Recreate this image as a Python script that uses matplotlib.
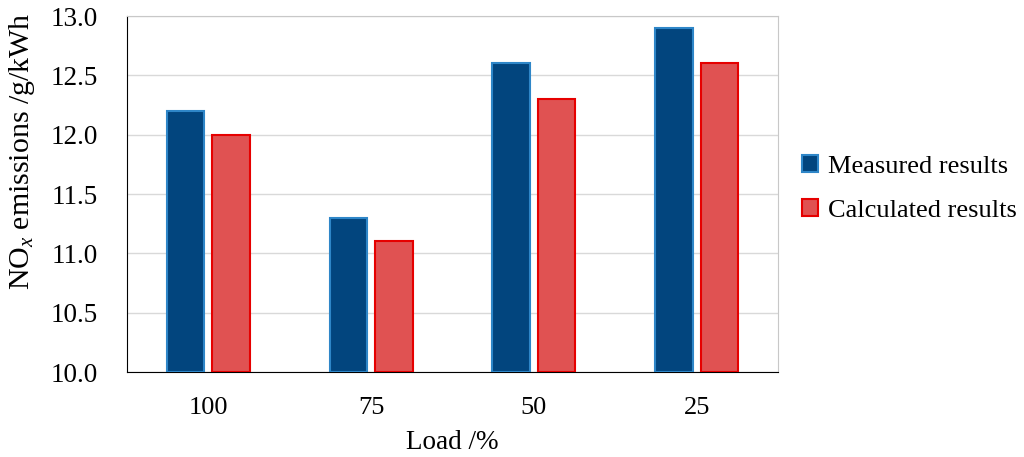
import matplotlib
matplotlib.use("Agg")
import matplotlib.pyplot as plt
import numpy as np

categories = ["100", "75", "50", "25"]
measured = [12.2, 11.3, 12.6, 12.9]
calculated = [12.0, 11.1, 12.3, 12.6]

plt.rcParams['font.family'] = ['Liberation Serif', 'DejaVu Serif']
plt.rcParams['mathtext.fontset'] = 'custom'
plt.rcParams['mathtext.rm'] = 'Liberation Serif'
plt.rcParams['mathtext.it'] = 'Liberation Serif:italic'

fig = plt.figure(figsize=(10.24, 4.57), dpi=100)
ax = fig.add_axes([127/1024, 1-372/457, (778-127)/1024, (372-16)/457])

x = np.arange(len(categories))
w = 0.23
ax.bar(x - 0.14, [m - 10 for m in measured], w, bottom=10, color='#02457e',
       edgecolor='#2e86c8', linewidth=1.5, label='Measured results', zorder=3)
ax.bar(x + 0.14, [c - 10 for c in calculated], w, bottom=10, color='#e05252',
       edgecolor='#e60000', linewidth=1.5, label='Calculated results', zorder=3)

ax.set_xlim(-0.5, 3.5)
ax.set_ylim(10.0, 13.0)
ax.set_yticks(np.arange(10.0, 13.01, 0.5))
ax.set_yticklabels([f"{v:.1f}" for v in np.arange(10.0, 13.01, 0.5)])
ax.set_xticks(x)
ax.set_xticklabels(categories)
ax.tick_params(axis='y', length=0, labelsize=19.5, pad=21)
ax.tick_params(axis='x', length=0, labelsize=19, pad=18)
ax.yaxis.grid(True, color='#d9d9d9', linewidth=1, zorder=0)
ax.set_axisbelow(True)
for s in ['top', 'right']:
    ax.spines[s].set_color('#c8c8c8')
for s in ['left', 'bottom']:
    ax.spines[s].set_color('black')
ax.set_xlabel('Load /%', fontsize=19.5, labelpad=8)
ax.set_ylabel(r'NO$_x$ emissions /g/kWh', fontsize=21.5)
ax.yaxis.set_label_coords(-0.138, 0.62)

ax.legend(loc='center left', bbox_to_anchor=(1.0, 0.515), frameon=False,
          fontsize=19, handlelength=0.6, handleheight=0.6, handletextpad=0.4,
          labelspacing=0.8)

fig.savefig('out.png', dpi=100)
